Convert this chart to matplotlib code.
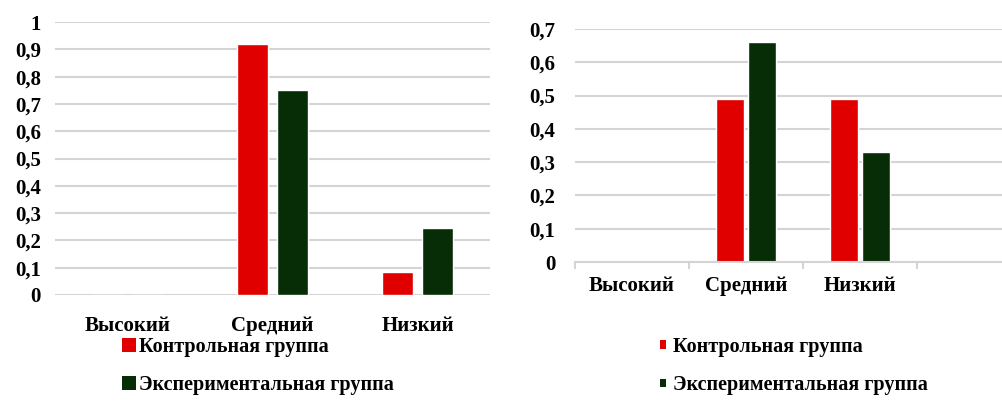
import numpy as np
import matplotlib
matplotlib.use("Agg")
import matplotlib.pyplot as plt
from matplotlib.patches import Patch

plt.rcParams['font.family'] = ['Liberation Serif', 'DejaVu Serif']
plt.rcParams['font.weight'] = 'bold'

categories = ["Высокий", "Средний", "Низкий"]
series_names = ["Контрольная группа", "Экспериментальная группа"]

left_control = [0.0, 0.92, 0.085]
left_experimental = [0.0, 0.75, 0.245]
left_yticks = ["0", "0,1", "0,2", "0,3", "0,4", "0,5", "0,6", "0,7", "0,8", "0,9", "1"]

right_control = [0.0, 0.49, 0.49]
right_experimental = [0.0, 0.66, 0.33]
right_yticks = ["0", "0,1", "0,2", "0,3", "0,4", "0,5", "0,6", "0,7"]

RED = "#e10000"
GREEN = "#062d06"
GRID = "#d4d4d4"
FS = 15

fig = plt.figure(figsize=(10.03, 4.15), dpi=100)


def style_axes(ax, yticks, top, pad):
    ax.set_ylim(0, top)
    vals = np.linspace(0, top, len(yticks))
    ax.set_yticks(vals)
    ax.set_yticklabels(yticks, fontsize=FS, fontweight='bold')
    ax.yaxis.grid(True, color=GRID, linewidth=1.5)
    ax.set_axisbelow(True)
    for s in ax.spines.values():
        s.set_visible(False)
    ax.tick_params(axis='y', length=0, pad=pad)


# left chart
ax1 = fig.add_axes([55 / 1003, 1 - 295 / 415, 435 / 1003, 273 / 415])
x = np.arange(len(categories))
ax1.bar(x - 0.138, left_control, width=0.22, color=RED, edgecolor='white', linewidth=1)
ax1.bar(x + 0.138, left_experimental, width=0.22, color=GREEN, edgecolor='white', linewidth=1)
ax1.set_xlim(-0.5, 2.5)
style_axes(ax1, left_yticks, 1.0, 10)
ax1.set_xticks(x)
ax1.set_xticklabels(categories, fontsize=FS, fontweight='bold')
ax1.tick_params(axis='x', length=0, pad=15)

# right chart
ax2 = fig.add_axes([575 / 1003, 1 - 262 / 415, 428 / 1003, 233 / 415])
ax2.bar(x - 0.14, right_control, width=0.245, color=RED, edgecolor='white', linewidth=1)
ax2.bar(x + 0.14, right_experimental, width=0.245, color=GREEN, edgecolor='white', linewidth=1)
ax2.set_xlim(-0.5, 3.25)
style_axes(ax2, right_yticks, 0.7, 14)
ax2.spines['bottom'].set_visible(True)
ax2.spines['bottom'].set_color(GRID)
ax2.spines['bottom'].set_linewidth(1.5)
ax2.set_xticks(x)
ax2.set_xticklabels(categories, fontsize=FS, fontweight='bold')
ax2.set_xticks(np.arange(-0.5, 3.0, 1.0), minor=True)
ax2.tick_params(axis='x', which='major', length=0, pad=10)
ax2.tick_params(axis='x', which='minor', length=5, color=GRID, width=1.5)

# legends
h1 = [Patch(facecolor=RED), Patch(facecolor=GREEN)]
fig.legend(h1, series_names, loc='upper left', bbox_to_anchor=(112 / 1003, 1 - 327 / 415),
           frameon=False, handlelength=0.7, handleheight=0.7,
           handletextpad=0.15, labelspacing=0.9, borderpad=0, prop={'weight': 'bold', 'size': 14.5})
h2 = [Patch(facecolor=RED), Patch(facecolor=GREEN)]
fig.legend(h2, series_names, loc='upper left', bbox_to_anchor=(650 / 1003, 1 - 327 / 415),
           frameon=False, handlelength=0.3, handleheight=0.3,
           handletextpad=0.35, labelspacing=0.9, borderpad=0, prop={'weight': 'bold', 'size': 14.5})

fig.savefig("out.png", dpi=100)
